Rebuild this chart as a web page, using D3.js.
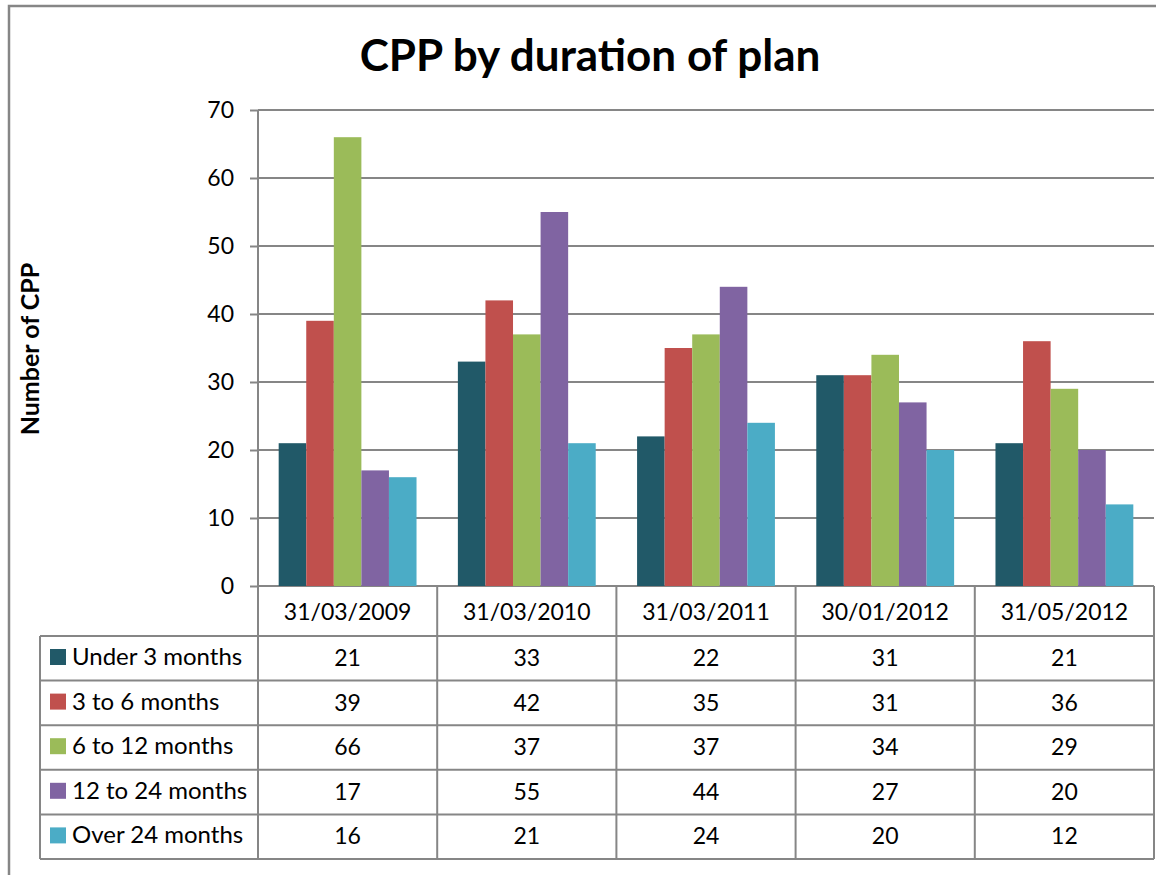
<!DOCTYPE html>
<html>
<head>
<meta charset="utf-8">
<script src="https://cdn.jsdelivr.net/npm/d3@7"></script>
<style>
  body { margin: 0; background: #fff; }
  svg text { font-family: Lato, "Open Sans", sans-serif; fill: #000; }
</style>
</head>
<body>
<svg id="chart" width="1156" height="875"></svg>
<script>
// data
var categories = ["31/03/2009", "31/03/2010", "31/03/2011", "30/01/2012", "31/05/2012"];
var seriesNames = ["Under 3 months", "3 to 6 months", "6 to 12 months", "12 to 24 months", "Over 24 months"];
var under3 = [21, 33, 22, 31, 21];
var m3to6 = [39, 42, 35, 31, 36];
var m6to12 = [66, 37, 37, 34, 29];
var m12to24 = [17, 55, 44, 27, 20];
var over24 = [16, 21, 24, 20, 12];
var yTicks = [0, 10, 20, 30, 40, 50, 60, 70];

var seriesValues = [under3, m3to6, m6to12, m12to24, over24];
var colors = ["#215968", "#C0504D", "#9BBB59", "#8064A2", "#4BACC6"];
var gridColor = "#868686";

var svg = d3.select("#chart");
svg.append("rect").attr("width", 1156).attr("height", 875).attr("fill", "#fff");

// outer frame of the chart
svg.append("rect")
    .attr("x", 9).attr("y", 6)
    .attr("width", 1200).attr("height", 900)
    .attr("fill", "none")
    .attr("stroke", gridColor)
    .attr("stroke-width", 2.5);

// (window.top is read-only, so plot* names)
var plotL = 258, plotR = 1154, plotT = 110, plotB = 586;

var y = d3.scaleLinear().domain([0, 70]).range([plotB, plotT]);
var x = d3.scaleBand().domain(categories).range([plotL, plotR]).padding(0);
var xs = d3.scaleBand().domain(seriesNames).range([0, x.bandwidth()])
    .paddingInner(0).paddingOuter(0.75);

// gridlines + tick marks
var yAxis = d3.axisLeft(y).tickValues(yTicks).tickSize(8).tickPadding(16);
var gAxis = svg.append("g").attr("transform", "translate(" + plotL + ",0)").call(yAxis);
gAxis.select(".domain").remove();
gAxis.selectAll(".tick line").attr("stroke", gridColor).attr("stroke-width", 2);
gAxis.selectAll(".tick text").style("font-size", "23px").attr("fill", "#000");

svg.append("g").selectAll("line")
    .data(yTicks)
    .enter().append("line")
    .attr("x1", plotL).attr("x2", plotR)
    .attr("y1", d => y(d)).attr("y2", d => y(d))
    .attr("stroke", gridColor).attr("stroke-width", 2);

// bars
var rows = seriesNames.map((name, i) => ({ name: name, color: colors[i], values: seriesValues[i] }));

svg.append("g").selectAll("g")
    .data(rows)
    .enter().append("g")
    .attr("fill", d => d.color)
    .selectAll("rect")
    .data(d => d.values.map((v, j) => ({ name: d.name, cat: categories[j], v: v })))
    .enter().append("rect")
    .attr("x", d => x(d.cat) + xs(d.name))
    .attr("width", xs.bandwidth())
    .attr("y", d => y(d.v))
    .attr("height", d => y(0) - y(d.v));

// data table
var headerH = 50;
var rowH = (859 - plotB - headerH) / rows.length;
var tableLeft = 40;
var rowY = d => plotB + headerH + d * rowH;
var tableBottom = rowY(rows.length);

var tbl = svg.append("g").attr("stroke", gridColor).attr("stroke-width", 2);

// vertical axis line reaching down through the table
tbl.append("line").attr("x1", plotL).attr("x2", plotL).attr("y1", plotT).attr("y2", tableBottom);
tbl.selectAll("line.vc")
    .data(categories)
    .enter().append("line")
    .attr("x1", d => x(d) + x.bandwidth()).attr("x2", d => x(d) + x.bandwidth())
    .attr("y1", plotB).attr("y2", tableBottom);
tbl.append("line").attr("x1", tableLeft).attr("x2", tableLeft)
    .attr("y1", rowY(0)).attr("y2", tableBottom);
tbl.selectAll("line.hr")
    .data(d3.range(rows.length + 1))
    .enter().append("line")
    .attr("x1", tableLeft).attr("x2", plotR)
    .attr("y1", d => rowY(d)).attr("y2", d => rowY(d));

// header labels
svg.append("g").selectAll("text")
    .data(categories)
    .enter().append("text")
    .attr("x", d => x(d) + x.bandwidth() / 2)
    .attr("y", plotB + 34)
    .attr("text-anchor", "middle")
    .style("font-size", "23px")
    .text(d => d);

// row labels with legend keys
var rg = svg.append("g").selectAll("g")
    .data(rows)
    .enter().append("g")
    .attr("transform", (d, i) => "translate(0," + rowY(i) + ")");

rg.append("rect")
    .attr("x", 50).attr("y", 13)
    .attr("width", 16).attr("height", 16)
    .attr("fill", d => d.color);

rg.append("text")
    .attr("x", 72).attr("y", 29)
    .style("font-size", "24px")
    .text(d => d.name);

rg.selectAll("text.val")
    .data(d => d.values.map((v, j) => ({ cat: categories[j], v: v })))
    .enter().append("text")
    .attr("x", d => x(d.cat) + x.bandwidth() / 2)
    .attr("y", 30)
    .attr("text-anchor", "middle")
    .style("font-size", "23px")
    .text(d => d.v);

// titles
svg.append("text")
    .attr("x", 590).attr("y", 71)
    .attr("text-anchor", "middle")
    .style("font-size", "44px")
    .style("font-weight", "bold")
    .text("CPP by duration of plan");

svg.append("text")
    .attr("transform", "translate(39,349) rotate(-90)")
    .attr("text-anchor", "middle")
    .style("font-size", "25px")
    .style("font-weight", "bold")
    .text("Number of CPP");
</script>
</body>
</html>
